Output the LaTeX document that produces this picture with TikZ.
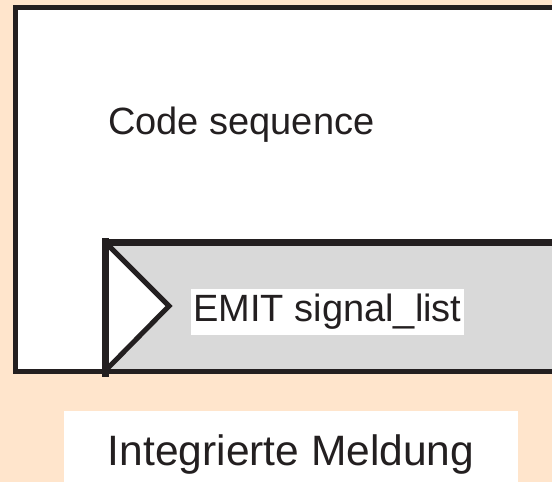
\documentclass[tikz,border=0pt]{standalone}
\usepackage{fontspec}
\setmainfont{Liberation Sans}
\definecolor{peach}{RGB}{255,229,204}
\definecolor{ink}{RGB}{35,31,32}
\definecolor{panel}{RGB}{217,217,217}

\begin{document}
\begin{tikzpicture}[x=1pt,y=-1pt,
  txt/.style={inner sep=0pt,font=\fontsize{38}{40}\selectfont,text=ink},
  tag/.style={txt,fill=white,minimum height=#1},
  frame/.style={ink,line width=#1}]
\useasboundingbox (0,0) rectangle (552,482);
\clip (0,0) rectangle (552,482);

%background
\fill[peach] (0,0) rectangle (552,482);

%task body and output panel
\fill[white] (15.5,7.5) rectangle (580,371.5);
\fill[panel] (106,242.7) rectangle (580,371.5);
%output symbol (notch)
\draw[frame=5pt,fill=white,line join=miter] (106,243) -- (169,306) -- (106,370);
%frames
\draw[frame=4.5pt] (15.5,7.5) rectangle (580,371.5);
\draw[frame=6.5pt] (580,242.7) -- (103,242.7);
\draw[frame=6.5pt] (105.5,238) -- (105.5,377);

% Text Nodes
\node[txt,anchor=base west] (code) at (108,134) {Code sequence};
\node[tag=46pt,minimum width=273pt] (emit) at (327.5,312) {EMIT signal\_list};
\node[tag=86pt,minimum width=454pt,anchor=north,font=\fontsize{42.5}{44}\selectfont] (title) at (291,411) {Integrierte Meldung};

\end{tikzpicture}
\end{document}
